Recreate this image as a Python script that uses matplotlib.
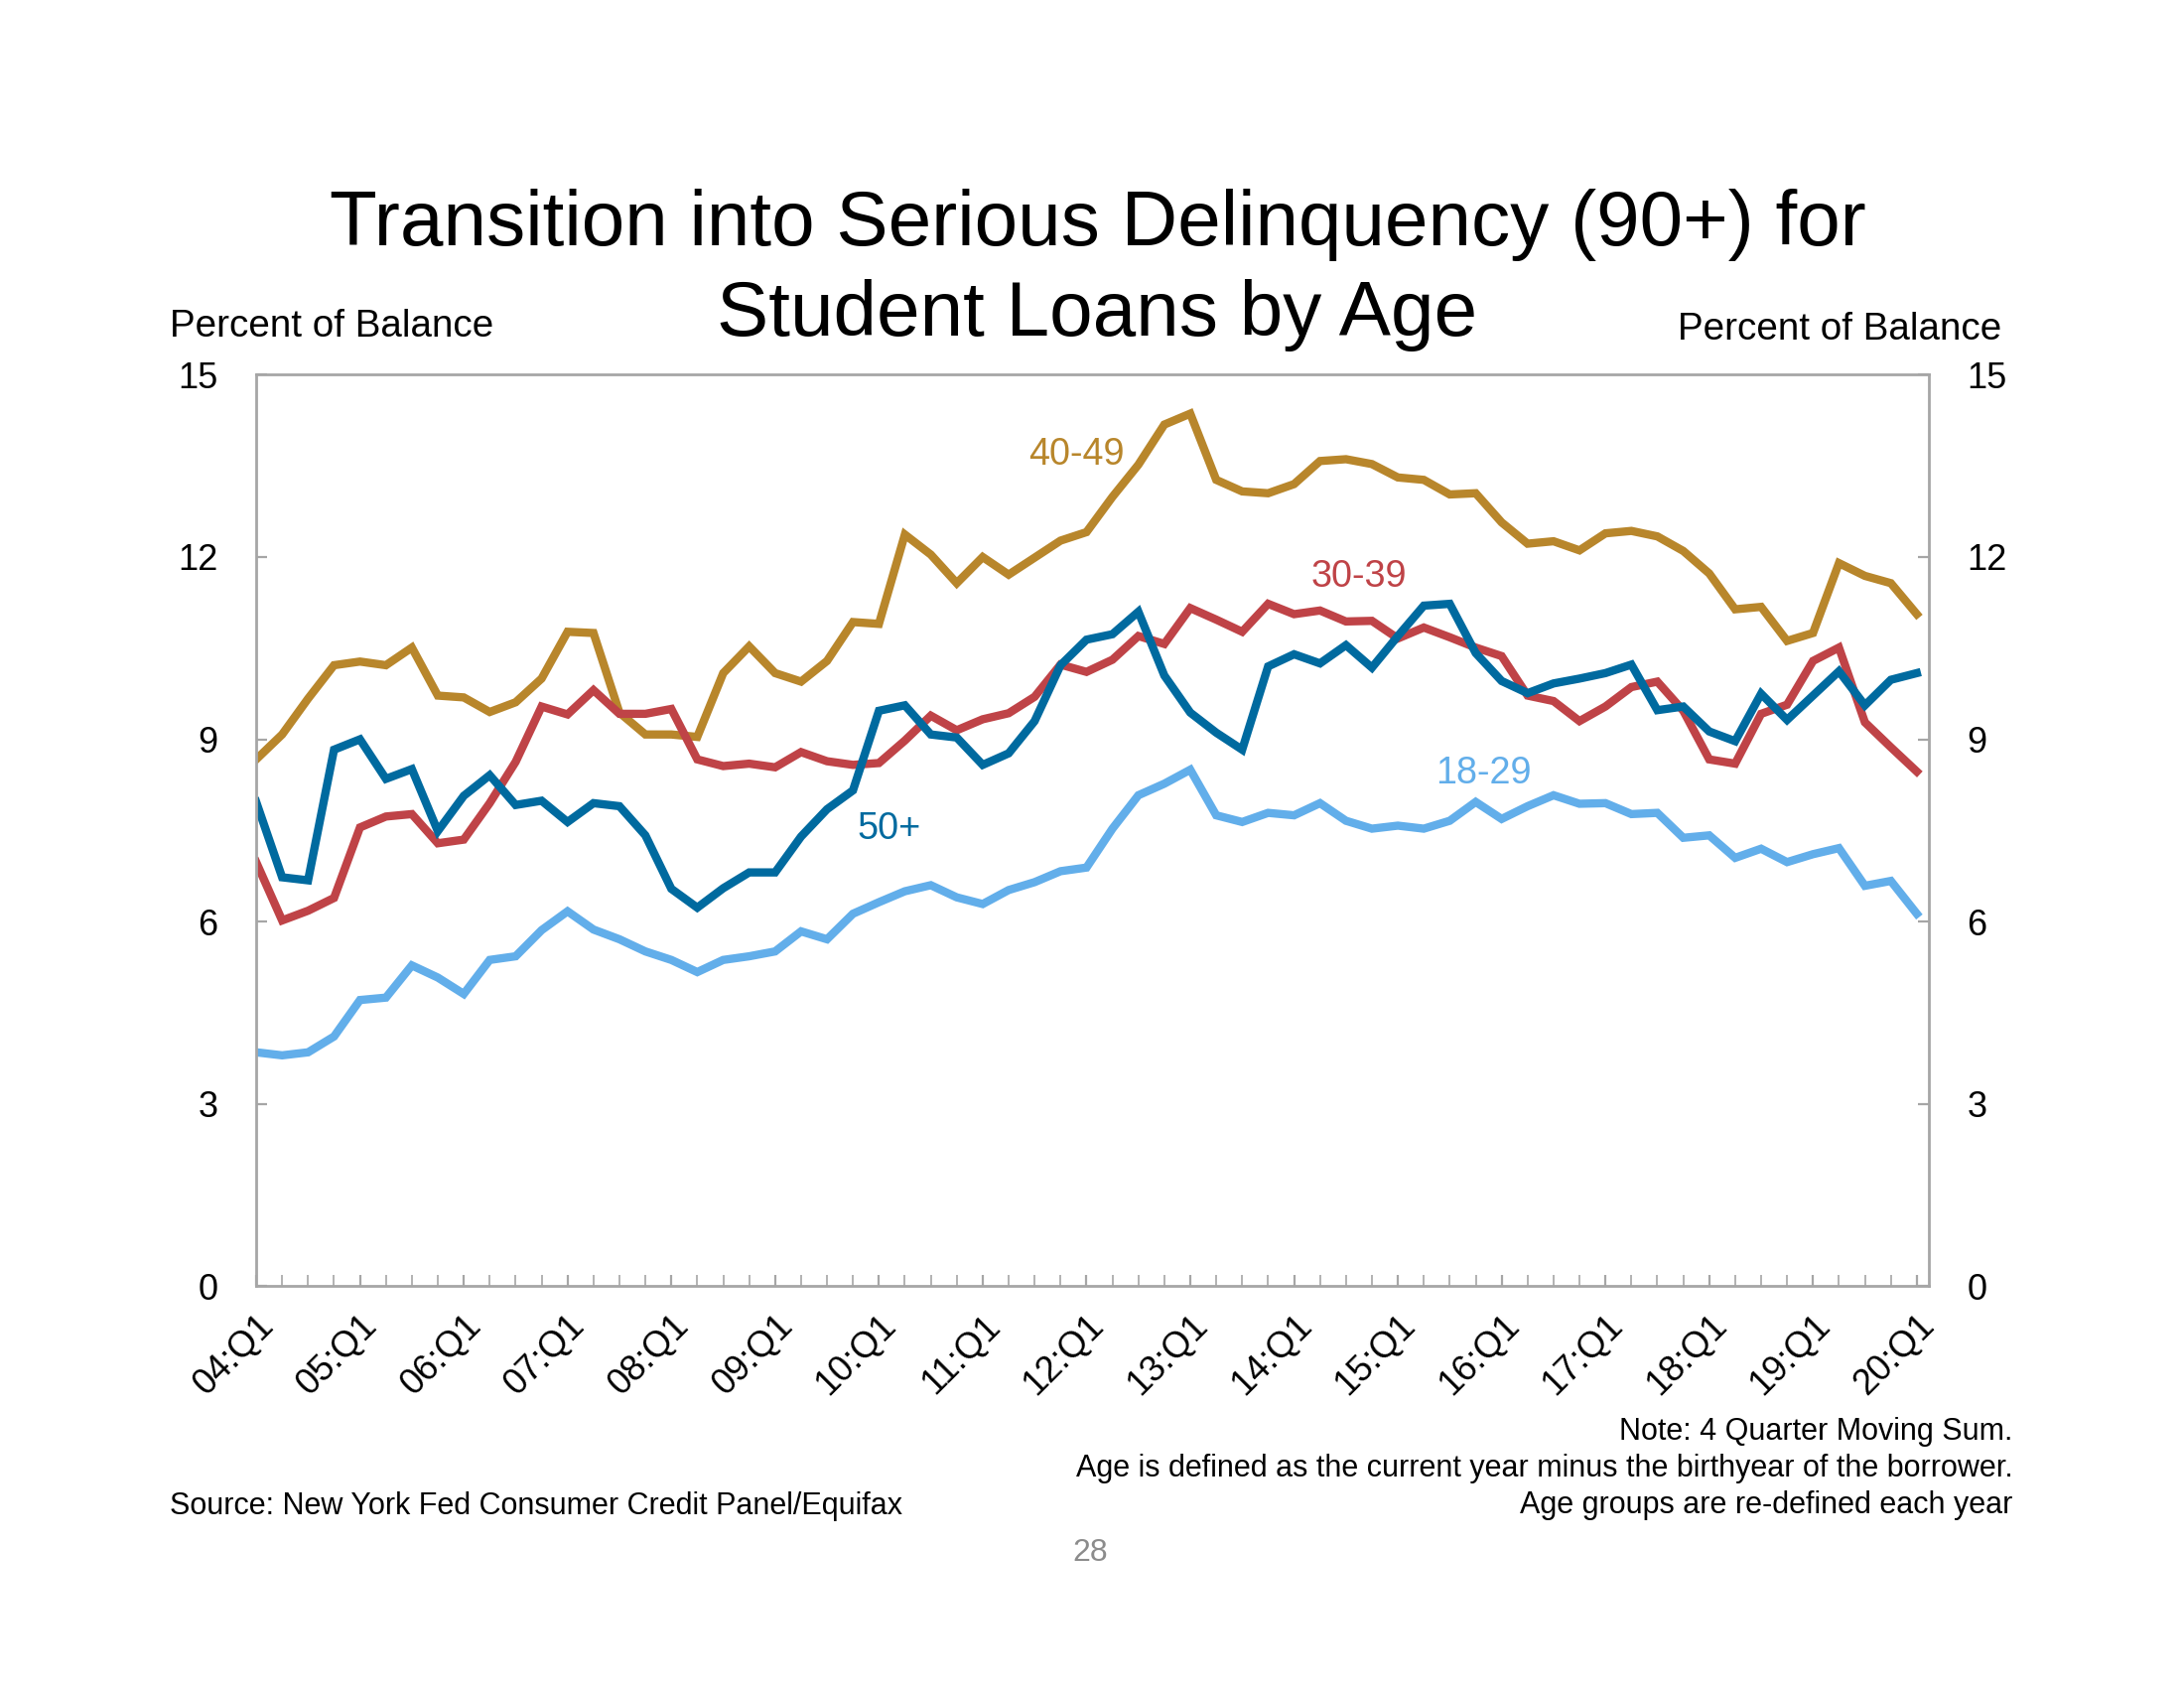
import numpy as np
import matplotlib
matplotlib.use("Agg")
import matplotlib.pyplot as plt

plt.rcParams['font.family'] = ['Liberation Sans', 'DejaVu Sans']

# quarters 04:Q1 .. 20:Q1
years = list(range(4, 21))
tick_labels = ["%02d:Q1" % y for y in years]

age_40_49 = [8.67, 9.08, 9.67, 10.22, 10.28, 10.22, 10.51, 9.72, 9.69, 9.45,
             9.61, 10.00, 10.77, 10.75, 9.44, 9.08, 9.08, 9.04, 10.09, 10.53,
             10.09, 9.95, 10.29, 10.93, 10.90, 12.37, 12.04, 11.57, 12.00, 11.71,
             11.99, 12.27, 12.41, 12.99, 13.52, 14.18, 14.36, 13.27, 13.08, 13.05,
             13.20, 13.58, 13.61, 13.53, 13.31, 13.27, 13.03, 13.05, 12.57, 12.22,
             12.26, 12.11, 12.39, 12.43, 12.34, 12.10, 11.73, 11.14, 11.18, 10.62,
             10.75, 11.90, 11.69, 11.57, 11.06]

age_30_39 = [6.98, 6.02, 6.18, 6.39, 7.55, 7.73, 7.77, 7.29, 7.35, 7.95,
             8.63, 9.54, 9.41, 9.81, 9.42, 9.42, 9.50, 8.67, 8.56, 8.60,
             8.54, 8.79, 8.64, 8.58, 8.61, 8.98, 9.39, 9.15, 9.33, 9.43,
             9.70, 10.23, 10.11, 10.31, 10.70, 10.57, 11.16, 10.97, 10.77, 11.23,
             11.06, 11.12, 10.94, 10.95, 10.66, 10.84, 10.68, 10.51, 10.37, 9.72,
             9.63, 9.30, 9.54, 9.86, 9.95, 9.47, 8.67, 8.60, 9.42, 9.57,
             10.29, 10.51, 9.28, 8.87, 8.47]

age_50_plus = [7.97, 6.73, 6.68, 8.83, 9.00, 8.35, 8.51, 7.49, 8.07, 8.41,
               7.92, 7.99, 7.64, 7.95, 7.90, 7.42, 6.54, 6.23, 6.55, 6.81,
               6.81, 7.40, 7.85, 8.16, 9.47, 9.56, 9.08, 9.03, 8.58, 8.77,
               9.30, 10.22, 10.64, 10.73, 11.10, 10.05, 9.44, 9.11, 8.83, 10.20,
               10.40, 10.25, 10.55, 10.18, 10.70, 11.20, 11.23, 10.42, 9.96, 9.76,
               9.92, 10.00, 10.09, 10.23, 9.48, 9.54, 9.13, 8.97, 9.75, 9.32,
               9.72, 10.12, 9.56, 9.98, 10.09]

age_18_29 = [3.85, 3.80, 3.85, 4.11, 4.71, 4.75, 5.28, 5.08, 4.81, 5.37,
             5.43, 5.86, 6.17, 5.87, 5.71, 5.51, 5.37, 5.17, 5.37, 5.43,
             5.51, 5.84, 5.71, 6.13, 6.32, 6.50, 6.60, 6.40, 6.29, 6.52,
             6.65, 6.83, 6.89, 7.53, 8.08, 8.27, 8.50, 7.75, 7.64, 7.79,
             7.75, 7.95, 7.66, 7.53, 7.58, 7.53, 7.66, 7.97, 7.69, 7.90,
             8.08, 7.94, 7.95, 7.77, 7.79, 7.38, 7.42, 7.05, 7.20, 6.98,
             7.11, 7.21, 6.59, 6.67, 6.13]

x = np.arange(len(age_40_49))

c_gold = '#B8862B'
c_red = '#BF4347'
c_blue = '#006A9F'
c_light = '#62AEEA'
c_axis = '#A6A6A6'

fig = plt.figure(figsize=(11, 8.5), dpi=200)
ax = fig.add_axes([0.1173, 0.238, 0.7657, 0.540])

lw = 3.0
ax.plot(x, age_40_49, color=c_gold, lw=lw, solid_joinstyle='miter')
ax.plot(x, age_30_39, color=c_red, lw=lw, solid_joinstyle='miter')
ax.plot(x, age_50_plus, color=c_blue, lw=lw, solid_joinstyle='miter')
ax.plot(x, age_18_29, color=c_light, lw=lw, solid_joinstyle='miter')

ax.set_xlim(0, 64.45)
ax.set_ylim(0, 15)
ax.set_yticks(range(0, 16, 3))
ax.set_xticks(range(0, 65, 4))
ax.set_xticklabels(tick_labels, rotation=45, ha='right', rotation_mode='anchor')
ax.set_xticks(range(0, 65), minor=True)

for s in ax.spines.values():
    s.set_color(c_axis)
    s.set_linewidth(1.0)

ax.tick_params(axis='y', direction='in', left=True, right=True,
               labelleft=True, labelright=True, length=4, color=c_axis,
               labelsize=13, pad=14)
ax.tick_params(axis='x', which='both', direction='in', length=4, color=c_axis,
               labelsize=13, pad=8)

# series labels
lab = dict(fontsize=13.6, ha='center', va='center')
ax.text(31.6, 13.69, "40-49", color=c_gold, **lab)
ax.text(42.5, 11.68, "30-39", color=c_red, **lab)
ax.text(24.4, 7.52, "50+", color=c_blue, **lab)
ax.text(47.3, 8.43, "18-29", color=c_light, **lab)

fig.text(0.5025, 0.867, "Transition into Serious Delinquency (90+) for",
         fontsize=28.2, ha='center', va='center')
fig.text(0.5025, 0.8135, "Student Loans by Age",
         fontsize=28.2, ha='center', va='center')

fig.text(0.0778, 0.8065, "Percent of Balance", fontsize=13.9, ha='left', va='center')
fig.text(0.9165, 0.8045, "Percent of Balance", fontsize=13.9, ha='right', va='center')

fig.text(0.9216, 0.1515, "Note: 4 Quarter Moving Sum.", fontsize=11, ha='right', va='center')
fig.text(0.9216, 0.130, "Age is defined as the current year minus the birthyear of the borrower.",
         fontsize=11, ha='right', va='center')
fig.text(0.9216, 0.1085, "Age groups are re-defined each year", fontsize=11, ha='right', va='center')
fig.text(0.0778, 0.1075, "Source: New York Fed Consumer Credit Panel/Equifax",
         fontsize=11, ha='left', va='center')
fig.text(0.4994, 0.080, "28", fontsize=11.5, color='#8C8C8C', ha='center', va='center')

plt.savefig("out.png")
